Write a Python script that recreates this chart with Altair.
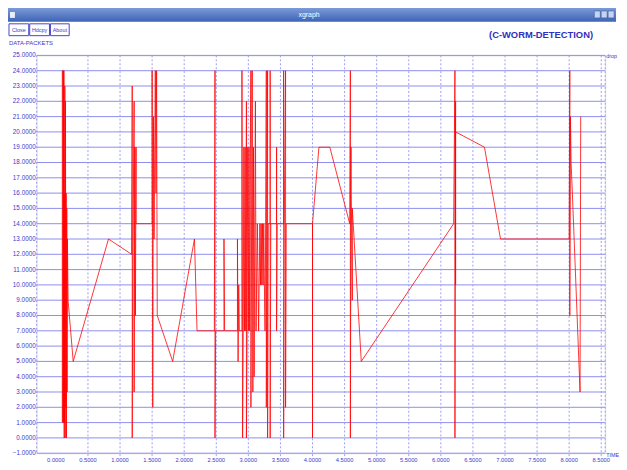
import altair as alt
import pandas as pd

# ---- data ----
time = [0.10, 0.10, 0.11, 0.11, 0.115, 0.12, 0.12, 0.125, 0.13, 0.13, 0.135, 0.14, 0.145, 0.15, 0.155, 0.16,
        0.165, 0.17, 0.175, 0.18, 0.19, 0.27, 0.82, 1.18,
        1.19, 1.19, 1.20, 1.22, 1.22, 1.23, 1.24, 1.25, 1.25, 1.50, 1.50, 1.51, 1.52, 1.53, 1.55, 1.56, 1.57,
        1.58, 1.82, 2.16, 2.20, 2.47, 2.48, 2.48, 2.49, 2.62, 2.62, 2.63, 2.83, 2.83, 2.84, 2.85, 2.86,
        2.90, 2.90, 2.91, 2.92, 2.93, 2.94, 2.95, 2.96, 2.97, 2.97, 2.98, 2.99, 3.00, 3.01, 3.02, 3.03,
        3.04, 3.04, 3.06, 3.07, 3.08, 3.09, 3.10, 3.11, 3.12, 3.14, 3.16, 3.18, 3.19, 3.20, 3.21, 3.22,
        3.23, 3.24, 3.25, 3.26, 3.27, 3.28, 3.28, 3.29, 3.30, 3.30, 3.31, 3.34, 3.34, 3.34, 3.35, 3.44,
        3.44, 3.44, 3.45, 3.55, 3.55, 3.55, 3.56, 3.58, 3.58, 3.59, 4.00, 4.00, 4.00, 4.10, 4.27, 4.58,
        4.59, 4.59, 4.60, 4.60, 4.61, 4.62, 4.62, 4.76, 6.20, 6.22, 6.22, 6.23, 6.23, 6.23, 6.68, 6.93,
        8.00, 8.01, 8.01, 8.02, 8.03, 8.05, 8.17, 8.18]
packets = [1, 24, 24, 1, 24, 19, 1, 24, 0, 16, 1, 23, 0, 22, 2, 16,
           0, 15, 3, 13, 9, 5, 13, 12,
           23, 0, 12, 22, 3, 19, 8, 19, 14, 14, 24, 2, 21, 13, 24, 16, 24,
           8, 5, 13, 7, 7, 24, 0, 7, 7, 13, 7, 7, 13, 5, 10, 7,
           7, 24, 0, 7, 19, 7, 19, 7, 22, 0, 7, 19, 7, 19, 7, 19,
           24, 2, 24, 3, 19, 4, 14, 22, 7, 14, 7, 14, 10, 14, 10, 14,
           10, 14, 10, 7, 14, 24, 2, 14, 24, 0, 14, 14, 24, 0, 14, 14,
           19, 7, 14, 14, 24, 0, 14, 24, 2, 14, 14, 0, 14, 19, 19, 14,
           24, 0, 19, 16, 14, 9, 15, 5, 14, 24, 0, 22, 10, 20, 19, 13,
           13, 24, 8, 21, 18, 16, 3, 21]

y_ticks = list(range(-1, 26))
x_ticks = [i * 0.5 for i in range(18)]
x_grid = [i * 0.5 for i in range(1, 18)]

title_text = "(C-WORM-DETECTION)"
y_title = "DATA-PACKETS"
x_title = "TIME"
legend_label = "drop"
window_title = "xgraph"
buttons = ["Close", "Hdcpy", "About"]

# ---- layout (page pixels) ----
W, H = 576, 403
X0, Y0 = 37, 53


def px(x):
    return x - X0


def py(y):
    return y - Y0


BLUE = "#3a3acc"
FONT = "Liberation Sans"
xs = alt.Scale(domain=[-0.3, 8.5615], nice=False, zero=False)
ys = alt.Scale(domain=[-1, 25], nice=False, zero=False)

one = pd.DataFrame({"a": [0]})
ydf = pd.DataFrame({"v": y_ticks})
xdf = pd.DataFrame({"t": x_ticks})

hgrid = alt.Chart(ydf).mark_rule(color="#8c8cee", strokeWidth=1).encode(
    y=alt.Y("v:Q", scale=ys, axis=None), x=alt.value(0), x2=alt.value(W))

ylabels = alt.Chart(ydf).mark_text(align="right", baseline="middle", fontSize=6.4, font=FONT,
                                   color=BLUE).encode(
    y=alt.Y("v:Q", scale=ys, axis=None), x=alt.value(-1), text=alt.Text("v:Q", format=".4f"))

vgrid = alt.Chart(pd.DataFrame({"t": x_grid})).mark_rule(color="#9c9cf2", strokeWidth=1,
                                                         strokeDash=[2, 2]).encode(
    x=alt.X("t:Q", scale=xs, axis=None), y=alt.value(0), y2=alt.value(H + 3))

xlabels = alt.Chart(xdf).mark_text(align="center", baseline="middle", fontSize=5.8, font=FONT,
                                   color=BLUE).encode(
    x=alt.X("t:Q", scale=xs, axis=None), y=alt.value(H + 7), text=alt.Text("t:Q", format=".4f"))

left_border = alt.Chart(one).mark_rule(color="#9c9cf2", strokeDash=[2, 2]).encode(
    x=alt.value(0), y=alt.value(0), y2=alt.value(H))
right_border = alt.Chart(one).mark_rule(color="#9c9cf2", strokeDash=[2, 2]).encode(
    x=alt.value(W), y=alt.value(0), y2=alt.value(H))

line = alt.Chart(pd.DataFrame({"t": time, "v": packets, "i": list(range(len(time)))})).mark_line(
    color="#ff0000", strokeWidth=1, opacity=0.8).encode(
    x=alt.X("t:Q", scale=xs, axis=None), y=alt.Y("v:Q", scale=ys, axis=None), order="i:Q")


def txt(s, x, y, size, color, weight="normal", align="left", font=FONT):
    return alt.Chart(pd.DataFrame({"s": [s]})).mark_text(
        fontSize=size, color=color, fontWeight=weight, align=align, baseline="middle", font=font).encode(
        text="s:N", x=alt.value(px(x)), y=alt.value(py(y)))


def rect(x1, y1, x2, y2, **kw):
    return alt.Chart(one).mark_rect(**kw).encode(
        x=alt.value(px(x1)), x2=alt.value(px(x2)), y=alt.value(py(y1)), y2=alt.value(py(y2)))


bar = rect(3, 5, 624, 19, fill=alt.Gradient(gradient="linear", x1=0, x2=0, y1=0, y2=1,
                                            stops=[alt.GradientStop(color="#7c9ad8", offset=0),
                                                   alt.GradientStop(color="#3d63b6", offset=1)]))
icon = rect(10, 9, 15, 15, fill="#e8eefa")
wbtns = [rect(x, 8, x + 6, 15, fill="#c6d4ef", stroke="#2b4f9c", strokeWidth=0.5) for x in (602, 609, 616)]

btn_boxes = [rect(9, 21, 29, 33, fill="white", stroke="#4444cc", strokeWidth=1),
             rect(30, 21, 50, 33, fill="white", stroke="#4444cc", strokeWidth=1),
             rect(51, 21, 70, 33, fill="white", stroke="#4444cc", strokeWidth=1)]
btn_texts = [txt(buttons[0], 19, 27, 5.5, BLUE, align="center"),
             txt(buttons[1], 40, 27, 5.5, BLUE, align="center"),
             txt(buttons[2], 60.5, 27, 5.5, BLUE, align="center")]

layers = [bar, icon] + wbtns + btn_boxes + btn_texts + [
    txt(window_title, 313, 12, 7, "white", align="center"),
    txt(title_text, 548, 32, 9.5, "#2f2fc0", weight="bold", align="center"),
    txt(y_title, 9, 40, 6, BLUE),
    hgrid, vgrid, left_border, right_border, ylabels, xlabels, line,
    txt(legend_label, 614, 54, 5.5, BLUE),
    txt(x_title, 614, 458, 5.5, BLUE),
]

chart = alt.layer(*layers).properties(
    width=W, height=H,
    padding={"left": 29, "top": 45, "right": 14, "bottom": 14},
    autosize=alt.AutoSizeParams(type="none"),
).configure_view(stroke=None).configure(background="white")

chart.save("out.html", embed_options={"renderer": "svg", "actions": False})
